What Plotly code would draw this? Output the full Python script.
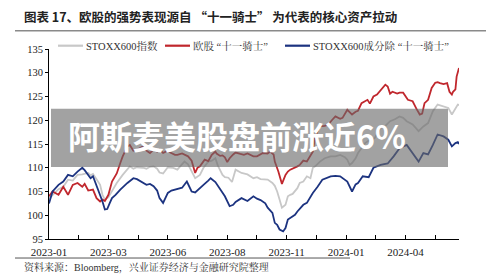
import plotly.graph_objects as go

# ---- data (trading-day index, value) ----
red_x = [0,3,8,12,16,20,24,28,30,33,37,40,43,45,47,50,53,56,57,60,62,66,68,71,74,77,79,82,85,88,91,93,96,100,102,106,108,112,117,120,121,123,125,127,131,134,137,140,141,144,146,148,150,152,155,157,161,164,167,169,172,175,178,180,184,186,189,190,193,196,199,201,203,205,209,211,214,217,220,222,224,226,228,232,235,238,241,245,247,251,255,258,260,263,266,268,270,273,276,279,283,285,287,289,293,295,298,302,306,309,312,314,316,319,322,325,327,329,332,335,337,339,340,342,343,345]
red_y = [104.0,105.0,104.3,106.0,104.3,106.4,106.8,106.0,106.6,105.2,105.4,103.6,102.9,103.3,103.0,104.3,107.1,108.5,108.8,111.0,112.4,114.5,114.8,113.6,113.8,114.2,114.5,113.6,113.1,113.8,113.4,113.8,113.1,113.6,113.2,112.7,112.7,113.0,112.4,111.5,110.6,108.9,110.0,110.3,111.7,111.4,112.7,113.4,113.0,112.5,112.6,112.2,111.2,112.0,112.8,113.2,112.9,112.7,113.0,112.8,112.4,112.4,112.9,113.1,113.0,113.4,112.8,111.3,109.2,106.6,108.5,109.2,109.6,109.8,110.3,110.6,111.5,111.3,112.4,113.4,116.6,117.6,118.7,118.8,119.1,120.0,120.8,120.3,120.5,122.2,121.2,121.8,122.0,123.6,124.0,124.3,123.5,125.0,125.4,126.4,127.5,127.1,125.6,126.0,125.6,125.8,125.8,124.3,124.0,122.5,121.2,121.4,123.6,124.3,126.8,127.9,128.0,127.8,127.6,127.8,126.0,125.4,126.0,126.5,129.2,131.0]

gray_x = [0,3,8,12,16,20,24,28,33,35,37,40,43,45,47,50,53,57,62,66,68,71,74,79,82,85,88,91,93,96,100,104,108,110,114,117,120,123,127,130,134,137,140,142,146,148,151,154,157,162,167,172,175,178,184,188,190,192,194,196,199,201,203,205,209,211,214,217,220,222,224,228,232,237,241,245,249,251,253,255,258,260,262,266,270,274,279,283,287,291,295,298,301,306,311,315,319,323,327,332,336,339,342,344,345]
gray_y = [103.5,104.2,105.5,106.0,107.5,107.3,108.5,108.6,108.9,108.4,108.7,107.6,106.4,104.3,103.3,103.8,105.0,106.8,108.5,109.6,110.3,109.8,110.1,110.0,109.8,110.2,110.3,109.8,109.0,108.8,110.1,110.0,109.6,110.2,111.3,110.7,109.2,107.8,108.5,110.0,111.3,111.5,112.0,110.5,108.5,108.0,107.9,107.0,109.6,108.9,108.6,107.8,108.0,107.6,107.5,106.8,106.2,105.0,103.3,101.6,102.2,104.0,104.3,104.5,105.7,106.8,107.1,108.2,107.8,110.0,110.3,111.3,112.0,112.4,112.4,112.7,112.2,111.7,110.6,111.0,112.0,113.1,113.8,115.2,115.9,116.2,118.4,118.8,119.8,120.2,120.8,120.5,119.8,119.1,117.7,118.7,119.4,121.9,123.3,123.0,122.6,121.2,122.5,123.3,123.2]

blue_x = [0,3,8,12,16,20,24,28,30,33,35,37,41,45,47,49,51,53,56,60,66,71,74,77,79,82,85,88,91,93,96,98,100,103,106,112,116,120,123,125,130,134,136,140,144,148,152,155,157,162,167,172,175,178,182,184,188,190,192,194,197,199,201,203,207,209,214,217,222,226,230,237,241,245,251,255,258,260,264,269,273,279,285,290,295,301,306,311,315,319,323,327,332,336,339,342,344,345]
blue_y = [102.5,105.0,106.4,107.1,108.5,108.2,109.2,110.0,109.5,108.6,107.8,108.2,105.7,102.9,101.2,101.3,102.5,103.6,104.3,105.4,106.8,107.8,107.6,107.1,106.9,106.4,106.6,106.1,105.2,103.6,102.6,103.5,104.7,105.2,105.4,105.8,107.1,105.0,104.8,105.3,106.4,107.3,107.8,107.0,105.4,104.0,101.9,102.2,102.8,103.6,103.0,104.0,103.5,103.2,102.5,101.6,100.5,98.4,98.0,97.0,96.6,97.3,99.1,99.4,100.1,100.8,102.2,102.6,104.7,106.0,107.5,108.2,108.3,108.2,107.1,105.0,106.5,106.8,108.2,108.0,110.0,110.6,110.9,112.4,114.1,114.8,113.1,111.3,113.1,112.8,114.8,117.0,116.6,115.9,114.5,115.2,115.4,115.0]

tick_vals = [0, 50, 100, 150, 200, 250, 300]
tick_text = ["2023-01", "2023-03", "2023-06", "2023-08", "2023-11", "2024-01", "2024-04"]
minor_ticks = [25, 75, 125, 175, 225, 275, 325]
y_ticks = [95, 100, 105, 110, 115, 120, 125, 130, 135]

names = ["STOXX600指数", "欧股 “十一骑士”", "STOXX600成分除 “十一骑士”"]
colors = ["#c8c8c8", "#c0272d", "#1c3380"]

title = "图表 17、欧股的强势表现源自 “十一骑士” 为代表的核心资产拉动"
source = "资料来源：Bloomberg，兴业证券经济与金融研究院整理"
banner = "阿斯麦美股盘前涨近6%"

# ---- layout helpers (pixel -> paper) ----
L, R, T, B = 49, 459, 49.3, 239
def px(x):
    return (x - L) / (R - L)
def py(y):
    return (B - y) / (B - T)

SERIF = "Liberation Serif, Noto Serif CJK SC, Noto Sans CJK SC"
CJK = "Noto Sans CJK SC"

fig = go.Figure()
for xs, ys, c in [(gray_x, gray_y, colors[0]), (red_x, red_y, colors[1]), (blue_x, blue_y, colors[2])]:
    fig.add_trace(go.Scatter(x=xs, y=ys, mode="lines", line=dict(color=c, width=1.8), showlegend=False, hoverinfo="skip"))

all_ticks = sorted(tick_vals + minor_ticks)
fig.update_layout(
    width=500, height=276,
    margin=dict(l=L, r=500 - R, t=T, b=276 - B),
    paper_bgcolor="white", plot_bgcolor="white",
    showlegend=False,
    xaxis=dict(range=[0, 345], tickmode="array",
               tickvals=all_ticks,
               ticktext=[tick_text[tick_vals.index(v)] if v in tick_vals else "" for v in all_ticks],
               ticks="inside", ticklen=4, tickcolor="black", tickwidth=1, ticklabelstandoff=3,
               showline=True, linecolor="black", linewidth=1, showgrid=False, zeroline=False,
               tickfont=dict(family=SERIF, size=11, color="#222")),
    yaxis=dict(range=[95, 135], tickvals=y_ticks, ticks="outside", ticklen=3, tickcolor="black",
               showline=True, linecolor="black", linewidth=1, showgrid=False, zeroline=False,
               tickfont=dict(family=SERIF, size=10.5, color="#222")),
)

shapes = []
ann = []
# title
ann.append(dict(x=px(22), y=py(17), xref="paper", yref="paper", text=title, showarrow=False,
                xanchor="left", yanchor="middle", font=dict(family=CJK, size=12.5, color="#222", weight="bold")))
shapes.append(dict(type="line", xref="paper", yref="paper", x0=px(15), x1=px(486), y0=py(31), y1=py(31),
                   line=dict(color="#8a8a8a", width=1.5)))
# legend
leg = [(58, 83, 84), (165, 190, 191), (285, 310, 311)]
for (a, b, t), n, c in zip(leg, names, colors):
    shapes.append(dict(type="line", xref="paper", yref="paper", x0=px(a), x1=px(b), y0=py(46), y1=py(46),
                       line=dict(color=c, width=2.2)))
    ann.append(dict(x=px(t), y=py(46), xref="paper", yref="paper", text=n, showarrow=False,
                    xanchor="left", yanchor="middle", font=dict(family=SERIF, size=10.5, color="#333")))
# source
shapes.append(dict(type="line", xref="paper", yref="paper", x0=px(15), x1=px(350), y0=py(258), y1=py(258),
                   line=dict(color="#555", width=1)))
ann.append(dict(x=px(22), y=py(267.5), xref="paper", yref="paper", text=source, showarrow=False,
                xanchor="left", yanchor="middle", font=dict(family=SERIF, size=10, color="#333")))
# overlay banner
shapes.append(dict(type="rect", xref="paper", yref="paper", x0=px(51), x1=px(448), y0=py(167), y1=py(109),
                   fillcolor="rgba(105,105,105,0.62)", line=dict(width=0), layer="above"))
ann.append(dict(x=px(66), y=py(135), xref="paper", yref="paper", text=banner, showarrow=False,
                xanchor="left", yanchor="middle", font=dict(family=CJK, size=32, color="white", weight="bold")))

fig.update_layout(shapes=shapes, annotations=ann)
fig.write_html("out.html")
